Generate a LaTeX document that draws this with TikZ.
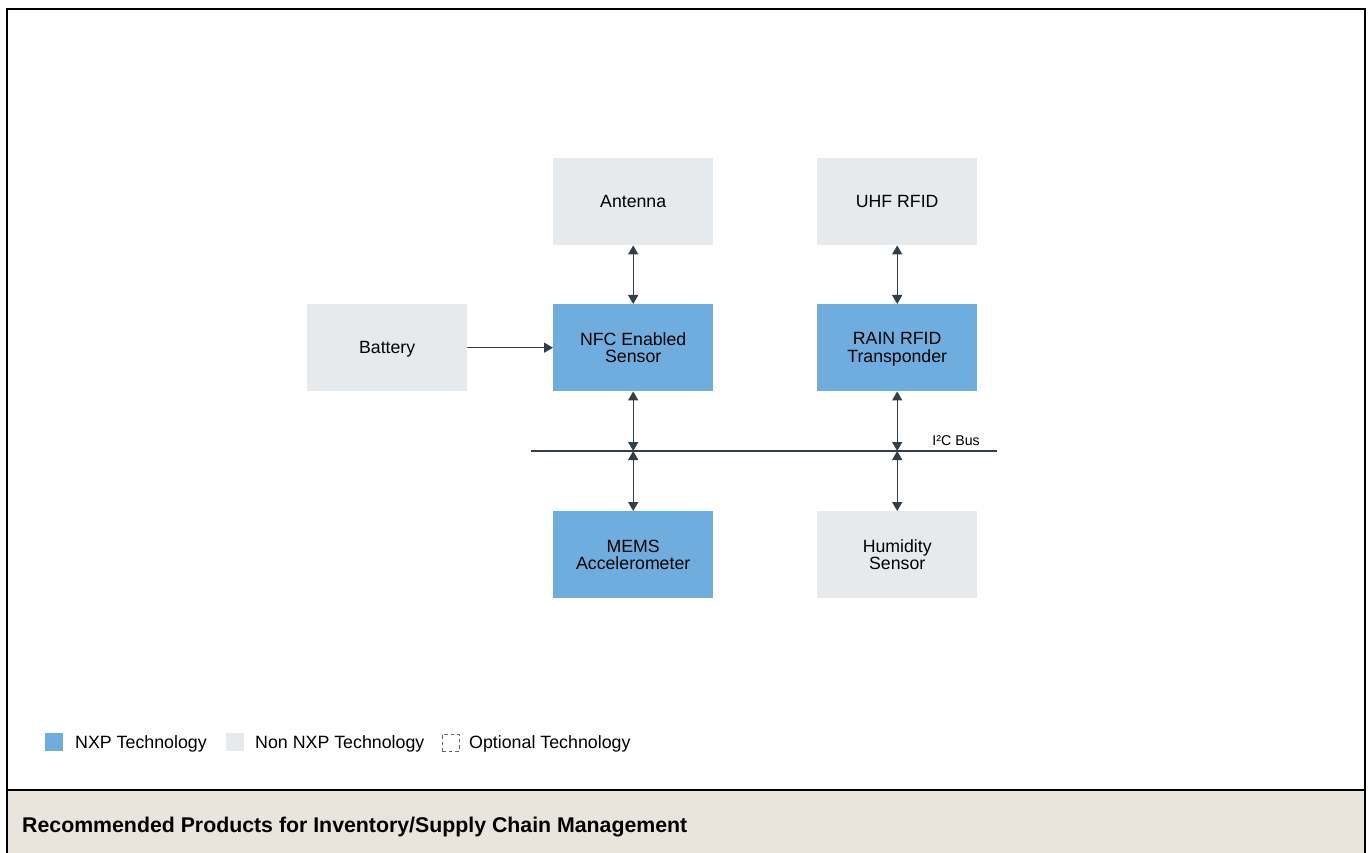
\documentclass[tikz,border=0pt]{standalone}
\usepackage{fontspec}
\setmainfont{Liberation Sans}
\usetikzlibrary{arrows.meta}
\definecolor{nxpblue}{HTML}{6FADDE}
\definecolor{nongrey}{HTML}{E6EAED}
\definecolor{linedark}{HTML}{333E48}
\definecolor{footbeige}{HTML}{E9E5DC}
\definecolor{dashgrey}{HTML}{5C6670}
\begin{document}
\begin{tikzpicture}[x=1pt,y=-1pt,
  blk/.style={minimum width=160pt,minimum height=87pt,inner sep=0pt,align=center,
    text depth=0pt,font=\fontsize{17.7}{17.6}\selectfont,text=black,anchor=north west},
  nxp/.style={blk,fill=nxpblue},
  non/.style={blk,fill=nongrey},
  conn/.style={draw=linedark,line width=1.4pt,
    {Triangle[length=9pt,width=10pt]}-{Triangle[length=9pt,width=10pt]}},
  oneway/.style={draw=linedark,line width=1.4pt,-{Triangle[length=9pt,width=10pt]}},
  legtxt/.style={font=\fontsize{17.8}{17.8}\selectfont,anchor=base west,inner sep=0pt},
  legsq/.style={minimum size=18pt,inner sep=0pt,anchor=north west}
]
\useasboundingbox (0,0) rectangle (1369,853);
% footer
\fill[footbeige] (7,790) rectangle (1365,853);
\draw[black,line width=2pt] (6,790) -- (1365,790);
% outer frame
\draw[black,line width=2pt] (6.5,856) -- (6.5,9) -- (1365,9) -- (1365,856);
\node[anchor=base west,inner sep=0pt,font=\fontsize{21.3}{21.3}\selectfont\bfseries] (foot) at (22,832.5)
  {Recommended Products for Inventory/Supply Chain Management};

% blocks
\node[non] (ant) at (553,158) {Antenna};
\node[non] (uhf) at (817,158) {UHF RFID};
\node[non] (bat) at (307,304) {Battery};
\node[nxp] (nfc) at (553,304) {NFC Enabled\\Sensor};
\node[nxp] (rain) at (817,304) {RAIN RFID\\Transponder};
\node[nxp] (mems) at (553,511) {MEMS\\Accelerometer};
\node[non] (hum) at (817,511) {Humidity\\Sensor};

% bus
\coordinate (busL) at (531,451);
\coordinate (busR) at (997,451);
\draw[linedark,line width=1.3pt] (busL) -- (busR);
\node[anchor=south east,inner sep=0pt,font=\fontsize{14.2}{14.2}\selectfont] (buslbl) at (980,446) {I²C Bus};

% connectors
\draw[conn] (ant.south) -- (nfc.north);
\draw[conn] (uhf.south) -- (rain.north);
\draw[oneway] (bat.east) -- (nfc.west);
\draw[conn] (nfc.south) -- (nfc.south |- busL);
\draw[conn] (mems.north |- busL) -- (mems.north);
\draw[conn] (rain.south) -- (rain.south |- busL);
\draw[conn] (hum.north |- busL) -- (hum.north);

% legend
\node[legsq,fill=nxpblue] (lg1) at (45,733) {};
\node[legtxt] (lt1) at (75,748.5) {NXP Technology};
\node[legsq,fill=nongrey] (lg2) at (226,733) {};
\node[legtxt] (lt2) at (255,748.5) {Non NXP Technology};
\node[legsq,draw=dashgrey,dashed,line width=1pt,dash pattern=on 3.5pt off 3pt,minimum size=17pt] (lg3) at (441.5,733.5) {};
\node[legtxt] (lt3) at (469,748.5) {Optional Technology};
\end{tikzpicture}
\end{document}
